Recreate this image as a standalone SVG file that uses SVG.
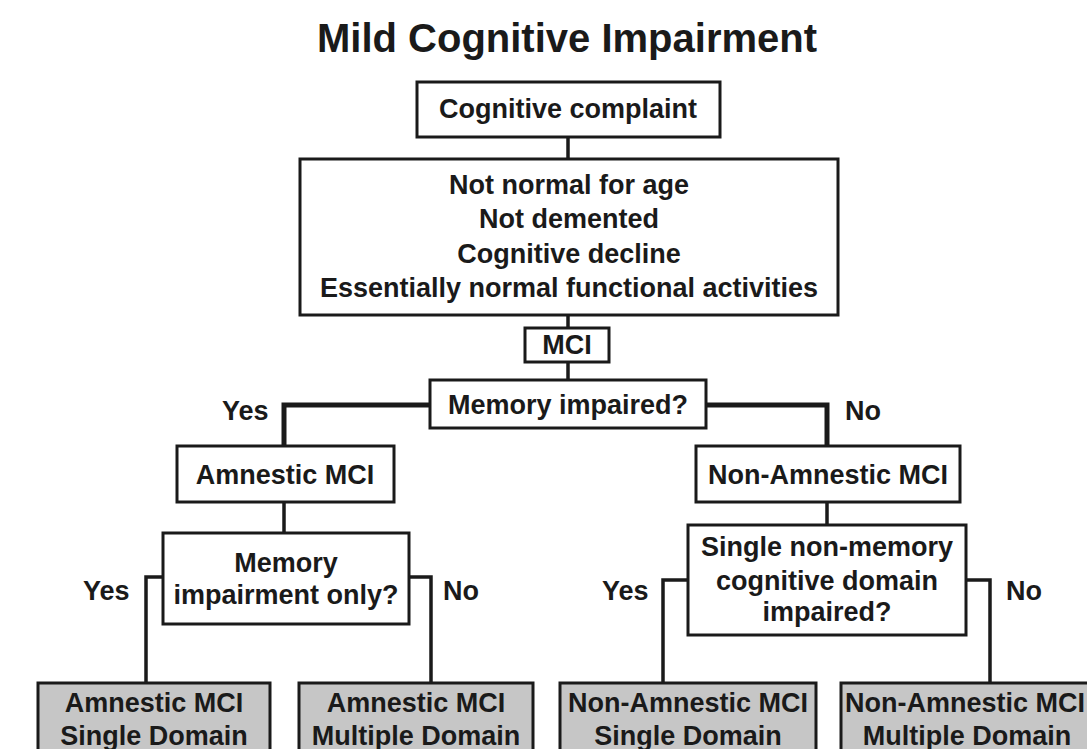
<svg xmlns="http://www.w3.org/2000/svg" width="1087" height="749" viewBox="0 0 1087 749">
<style>
text{font-family:"Liberation Sans",Arial,sans-serif;font-weight:bold;fill:#1a1a1a;font-size:27px;text-anchor:middle}
.lbl{text-anchor:start}
.box{fill:#fff;stroke:#1a1a1a;stroke-width:3}
.res{fill:#c6c6c6;stroke:#1a1a1a;stroke-width:3}
.con{fill:none;stroke:#1a1a1a;stroke-width:3.5}
.thick{stroke-width:5}
</style>
<rect width="1087" height="749" fill="#fff"/>
<text x="567" y="52" style="font-size:40px">Mild Cognitive Impairment</text>
<g id="connectors">
<path class="con" d="M568,137V159"/>
<path class="con" d="M568,315V328"/>
<path class="con" d="M568,362V380"/>
<path class="con thick" d="M430,405H284V446"/>
<path class="con thick" d="M706,405H827V446"/>
<path class="con" d="M284,502V533"/>
<path class="con" d="M163,577H146V683"/>
<path class="con" d="M409,577H431V683"/>
<path class="con" d="M827,502V525"/>
<path class="con" d="M688,580H663V683"/>
<path class="con" d="M966,580H990V683"/>
</g>
<g id="complaint"><rect class="box" x="417" y="82" width="303" height="55"/><text x="568" y="118">Cognitive complaint</text></g>
<g id="criteria"><rect class="box" x="300" y="159" width="538" height="156"/>
<text x="569" y="194">Not normal for age</text><text x="569" y="228">Not demented</text><text x="569" y="263">Cognitive decline</text><text x="569" y="297">Essentially normal functional activities</text></g>
<g id="mci"><rect class="box" x="525" y="328" width="84" height="34"/><text x="567" y="354">MCI</text></g>
<g id="memq"><rect class="box" x="430" y="380" width="276" height="48"/><text x="568" y="414">Memory impaired?</text></g>
<text class="lbl" x="222" y="420">Yes</text>
<text class="lbl" x="845" y="420">No</text>
<g id="amnestic"><rect class="box" x="177" y="446" width="217" height="56"/><text x="285" y="484">Amnestic MCI</text></g>
<g id="nonamnestic"><rect class="box" x="696" y="446" width="264" height="56"/><text x="828" y="484">Non-Amnestic MCI</text></g>
<g id="memonly"><rect class="box" x="163" y="533" width="246" height="91"/><text x="286" y="572">Memory</text><text x="286" y="604">impairment only?</text></g>
<g id="singlenon"><rect class="box" x="688" y="525" width="278" height="110"/><text x="827" y="556">Single non-memory</text><text x="827" y="590">cognitive domain</text><text x="827" y="621">impaired?</text></g>
<text class="lbl" x="83" y="600">Yes</text>
<text class="lbl" x="443" y="600">No</text>
<text class="lbl" x="602" y="600">Yes</text>
<text class="lbl" x="1006" y="600">No</text>
<g id="aSingle"><rect class="res" x="38" y="683" width="232" height="80"/><text x="154" y="712">Amnestic MCI</text><text x="154" y="745">Single Domain</text></g>
<g id="aMulti"><rect class="res" x="299" y="683" width="234" height="80"/><text x="416" y="712">Amnestic MCI</text><text x="416" y="745">Multiple Domain</text></g>
<g id="nSingle"><rect class="res" x="560" y="683" width="256" height="80"/><text x="688" y="712">Non-Amnestic MCI</text><text x="688" y="745">Single Domain</text></g>
<g id="nMulti"><rect class="res" x="841" y="683" width="262" height="80"/><text x="965" y="712">Non-Amnestic MCI</text><text x="967" y="745">Multiple Domain</text></g>
</svg>
